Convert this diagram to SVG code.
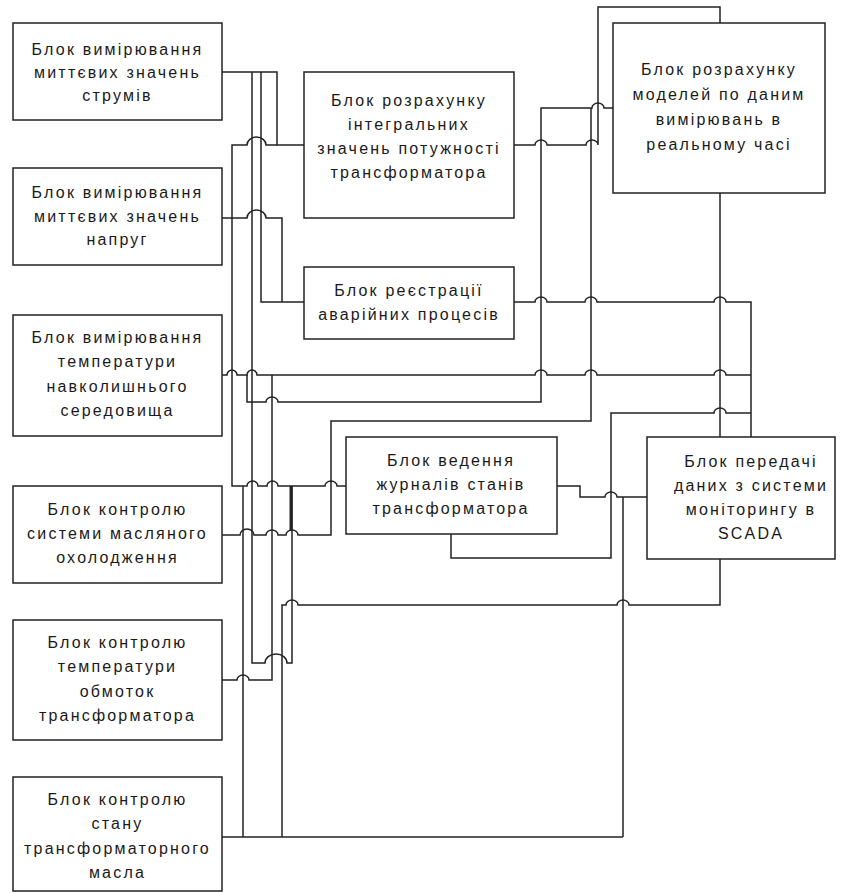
<svg xmlns="http://www.w3.org/2000/svg" width="845" height="893" viewBox="0 0 845 893">
<style>
rect{fill:#fff;stroke:#222;stroke-width:1.5}
text{font-family:"Liberation Sans",Arial,sans-serif;font-size:16px;letter-spacing:2.2px;fill:#1a1a1a;text-anchor:middle}
#connectors path{fill:none;stroke:#222;stroke-width:1.5}
</style>
<rect x="0" y="0" width="845" height="893" style="stroke:none"/>
<g id="connectors">
<path d="M222,72 H277 V145 H304"/>
<path d="M277,145 H266 A9.5,8 0 0 0 247,145 H232 V486 H247 A5.5,5 0 0 1 258,486 H267 A5.5,5 0 0 1 278,486 H325 A6,5 0 0 1 337,486 H346"/>
<path d="M252,72 V663 H265 A11,9 0 0 1 287,663 H292 V486"/>
<path d="M261,72 V302 H304"/>
<path d="M222,218 H247 A9.5,8 0 0 1 266,218 H282 V302"/>
<path d="M222,375 H227 A5,5 0 0 1 237,375 H247 A5,5 0 0 1 257,375 H535 A6,5 0 0 1 547,375 H585 A6,5 0 0 1 597,375 H714 A6,5 0 0 1 726,375 H751"/>
<path d="M247,375 V402 H266 A6,5 0 0 1 278,402 H541 V108 H592 A6,5 0 0 1 604,108 H613"/>
<path d="M222,535 H240 A7,6 0 0 1 254,535 H266 A6,5 0 0 1 278,535 H286 A6,5 0 0 1 298,535 H331 V421 H591 V108"/>
<path d="M514,145 H535 A6,5 0 0 1 547,145 H586 A6,5 0 0 1 598,145 V7 H720 V23"/>
<path d="M514,302 H535 A6,5 0 0 1 547,302 H585 A6,5 0 0 1 597,302 H714 A6,5 0 0 1 726,302 H751 V437"/>
<path d="M720,193 V437"/>
<path d="M451,534 V558 H611 V413 H714 A6,5 0 0 1 726,413 H751"/>
<path d="M557,486 H580 V497 H605 A6,5 0 0 1 617,497 H647"/>
<path d="M623,497 V837"/>
<path d="M222,837 H623"/>
<path d="M243,486 V837"/>
<path d="M282,837 V605 H286 A6,5 0 0 1 298,605 H617 A6,5 0 0 1 629,605 H720 V559"/>
<path d="M222,680 H237 A6,5 0 0 1 249,680 H272 V375"/>
<path d="M291,486 V531" style="stroke-width:3"/>
</g>
<g id="n1"><rect x="13" y="23" width="209" height="97"/>
<text x="117.5" y="55">Блок вимірювання</text><text x="117.5" y="78">миттєвих значень</text><text x="117.5" y="101">струмів</text></g>
<g id="n2"><rect x="13" y="168" width="209" height="97"/>
<text x="117.5" y="198">Блок вимірювання</text><text x="117.5" y="222">миттєвих значень</text><text x="117.5" y="245">напруг</text></g>
<g id="n3"><rect x="13" y="315" width="209" height="121"/>
<text x="117.5" y="343">Блок вимірювання</text><text x="117.5" y="367">температури</text><text x="117.5" y="392">навколишнього</text><text x="117.5" y="416">середовища</text></g>
<g id="n4"><rect x="13" y="486" width="209" height="97"/>
<text x="117.5" y="515">Блок контролю</text><text x="117.5" y="539">системи масляного</text><text x="117.5" y="563">охолодження</text></g>
<g id="n5"><rect x="13" y="620" width="209" height="120"/>
<text x="117.5" y="648">Блок контролю</text><text x="117.5" y="672">температури</text><text x="117.5" y="697">обмоток</text><text x="117.5" y="721">трансформатора</text></g>
<g id="n6"><rect x="13" y="777" width="209" height="114"/>
<text x="117.5" y="805">Блок контролю</text><text x="117.5" y="829">стану</text><text x="117.5" y="854">трансформаторного</text><text x="117.5" y="878">масла</text></g>
<g id="integral"><rect x="304" y="72" width="210" height="146"/>
<text x="409" y="106">Блок розрахунку</text><text x="409" y="130">інтегральних</text><text x="409" y="154">значень потужності</text><text x="409" y="178">трансформатора</text></g>
<g id="registration"><rect x="304" y="267" width="210" height="72"/>
<text x="409" y="296">Блок реєстрації</text><text x="409" y="320">аварійних процесів</text></g>
<g id="models"><rect x="613" y="23" width="212" height="170"/>
<text x="719" y="75">Блок розрахунку</text><text x="719" y="100">моделей по даним</text><text x="719" y="125">вимірювань в</text><text x="719" y="150">реальному часі</text></g>
<g id="journal"><rect x="346" y="437" width="211" height="97"/>
<text x="451" y="466">Блок ведення</text><text x="451" y="490">журналів станів</text><text x="451" y="514">трансформатора</text></g>
<g id="scada"><rect x="647" y="437" width="188" height="122"/>
<text x="751" y="467">Блок передачі</text><text x="751" y="491">даних з системи</text><text x="751" y="515">моніторингу в</text><text x="751" y="539">SCADA</text></g>
</svg>
